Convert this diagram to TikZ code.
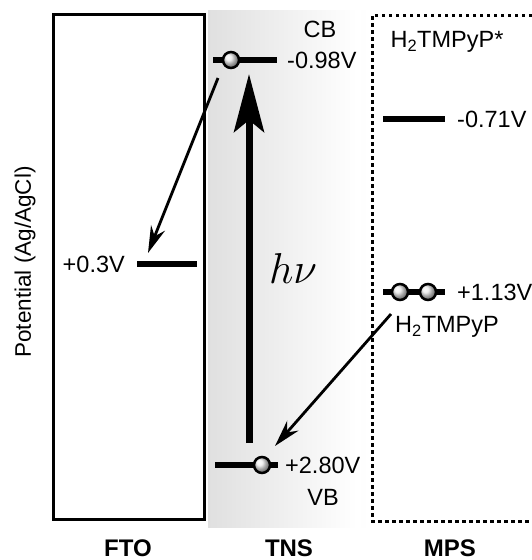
\documentclass[tikz,border=0pt]{standalone}
\usepackage{fontspec}
\setmainfont{Liberation Sans}
\usetikzlibrary{positioning,arrows.meta,shadings}

\pgfdeclarehorizontalshading{tnsshade}{100bp}{color(0bp)=(gray!36); color(30bp)=(gray!22); color(72bp)=(white); color(90bp)=(gray!6); color(100bp)=(gray!28)}

\begin{document}
\begin{tikzpicture}[x=1pt,y=-1pt,
			level/.style={line width=5.5pt},
			electron/.style={
				circle,
				draw,
				line width=2.5pt,
				inner sep=0pt,
				minimum size=16pt,
				shade,
				ball color=gray!15},
			lbl/.style={inner sep=0pt, font=\fontsize{23.5}{23.5}\selectfont},
			side/.style={inner sep=0pt, font=\bfseries\fontsize{24}{24}\selectfont},
			transfer/.style={line width=2.8pt, -{Stealth[length=27pt,width=15pt,inset=9pt]}}]
			
			\useasboundingbox (0,0) rectangle (532,560);
			
			% columns
			\shade[shading=tnsshade] (208,10) rectangle (366,527);
			\draw[line width=3pt] (53,14) rectangle (204,519);
			\draw[line width=3pt, dash pattern=on 3.5pt off 3.5pt] (532,15) -- (372,15) -- (372,521) -- (532,521);
			
			\node[inner sep=0pt, font=\fontsize{22.5}{22.5}\selectfont, rotate=90] (axis) at (25,262) {Potential (Ag/AgCl)};
			
			\node[side] (fto) at (128,548) {FTO};
			\node[side] (tns) at (289,548) {TNS};
			\node[side] (mps) at (450,548) {MPS};
			
			% TNS bands
			\draw[level] (213,60) -- (277,60);
			\node[electron] (cbe) at (231,60) {};
			\node[lbl] (cb) at (320,29) {CB};
			\node[lbl, anchor=west] (cbv) at (287,60) {-0.98V};
			
			\draw[level] (215,465) -- (278,465);
			\node[electron] (vbe) at (262,465) {};
			\node[lbl, anchor=west] (vbv) at (285,465) {+2.80V};
			\node[lbl] (vb) at (323,497) {VB};
			
			\coordinate (hvbot) at (249,443);
			\coordinate (hvtop) at (249,74);
			\draw[line width=7pt, -{Stealth[length=58pt,width=30pt,inset=12pt]}] (hvbot) -- (hvtop);
			\node[font=\LARGE, scale=2.5] (hv) at (293,268) {$h\nu$};
			
			% FTO level
			\draw[level] (137,264) -- (197,264);
			\node[lbl, anchor=east] (ftov) at (125,264) {+0.3V};
			
			% MPS levels
			\node[lbl] (dyeex) at (447,42) {H\textsubscript{2}TMPyP*};
			\draw[level] (383,119) -- (445,119);
			\node[lbl, anchor=west] (exv) at (457,119) {-0.71V};
			
			\draw[level] (383,292) -- (445,292);
			\node[electron] (dye1) at (400,292) {};
			\node[electron] (dye2) at (428,292) {};
			\node[lbl, anchor=west] (gsv) at (457,292) {+1.13V};
			\node[lbl] (dye) at (447,327) {H\textsubscript{2}TMPyP};
			
			% electron transfer
			\coordinate (cbout) at (218,78);
			\coordinate (ftoin) at (148,253);
			\draw[transfer] (cbout) -- (ftoin);
			
			\coordinate (dyeout) at (391,314);
			\coordinate (vbin) at (275,446);
			\draw[transfer] (dyeout) -- (vbin);
			
		\end{tikzpicture}
\end{document}
